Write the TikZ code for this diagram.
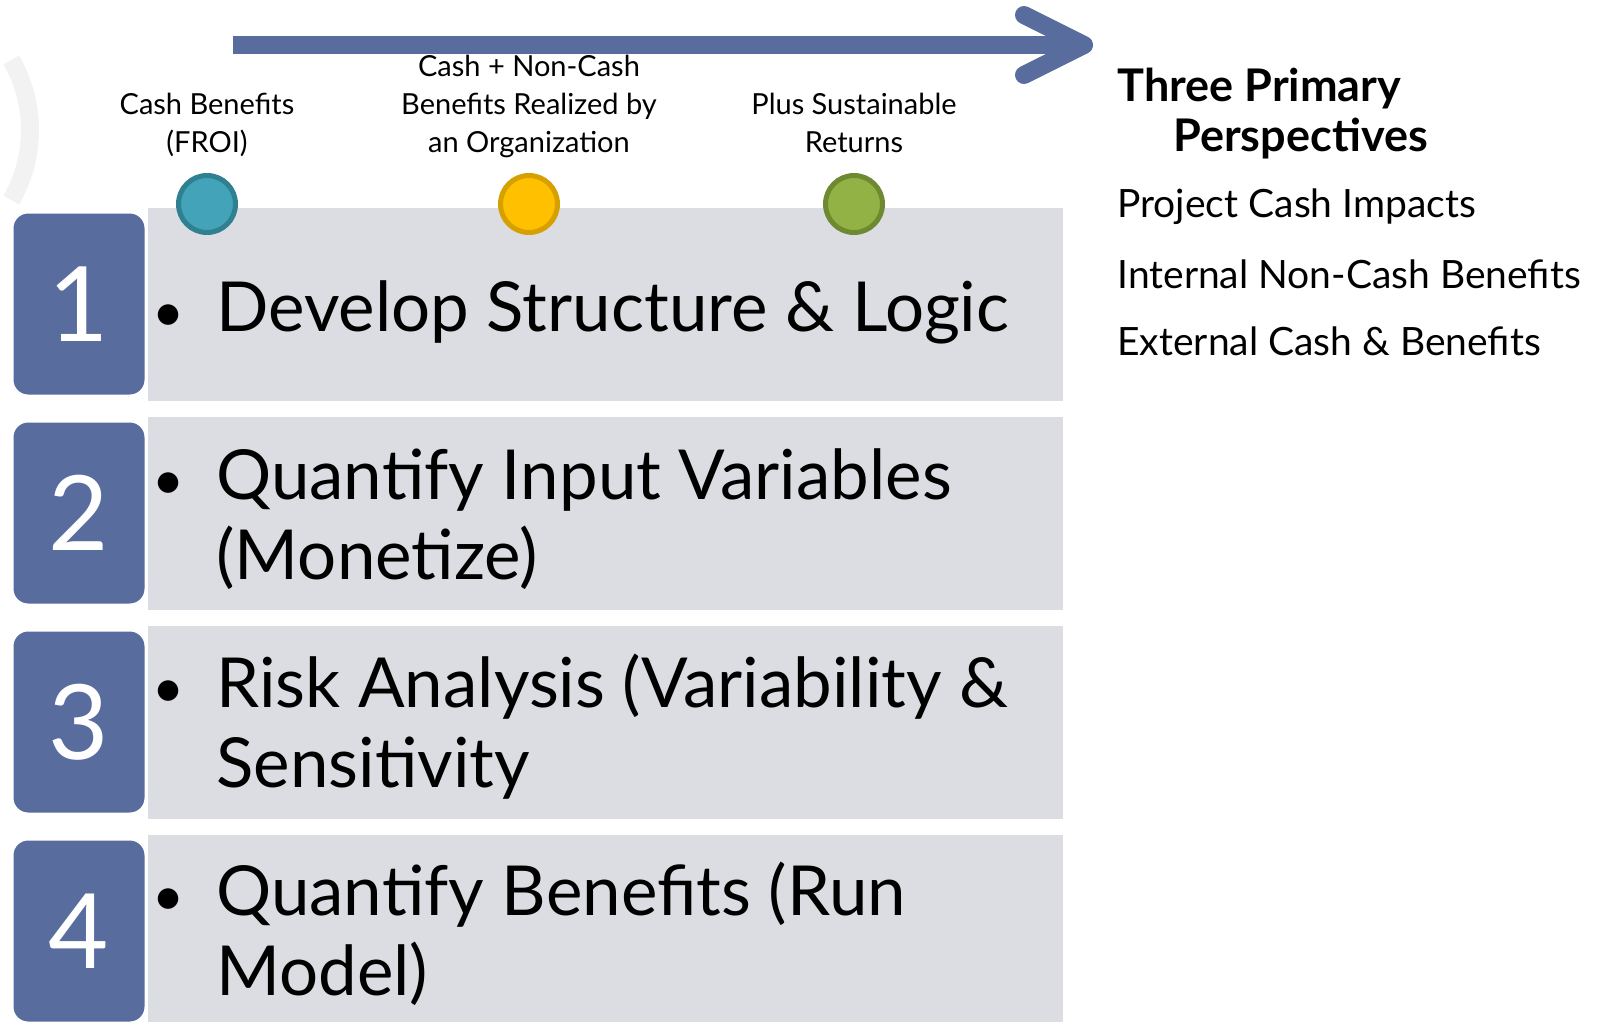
\documentclass[tikz,border=0pt]{standalone}
\usepackage{fontspec}
\setmainfont{Lato}
\usetikzlibrary{arrows.meta}

\definecolor{stepblue}{RGB}{88,108,158}
\definecolor{bargray}{RGB}{220,221,226}
\definecolor{tealfill}{RGB}{67,163,184}
\definecolor{tealline}{RGB}{47,128,144}
\definecolor{goldfill}{RGB}{255,192,0}
\definecolor{goldline}{RGB}{214,160,0}
\definecolor{greenfill}{RGB}{146,178,70}
\definecolor{greenline}{RGB}{110,138,48}

\begin{document}
\begin{tikzpicture}[x=0.5pt,y=-0.5pt,
    numbox/.style={rectangle,rounded corners=8pt,fill=stepblue,draw=white,line width=1.5pt,
      text=white,minimum width=67pt,minimum height=92pt,inner sep=0pt,font=\fontsize{52}{52}\selectfont},
    stepbar/.style={rectangle,fill=bargray,minimum width=457.5pt,minimum height=96.5pt,inner sep=0pt},
    steptext/.style={anchor=south west,align=left,inner sep=0pt,text depth=0pt,
      font=\fontsize{34.5}{40}\selectfont},
    dot/.style={circle,draw,line width=2.5pt,minimum size=28.5pt,inner sep=0pt},
    toplabel/.style={anchor=south,align=center,inner sep=0pt,text depth=0pt,
      font=\fontsize{14.5}{19}\selectfont},
    sidetext/.style={anchor=base west,inner sep=0pt,font=\fontsize{19.5}{22}\selectfont}]

\clip (0,0) rectangle (1602,1022);

% faint arc at the left edge
\draw[black!5,line width=9pt] (-110,130) ++(-30:140) arc[start angle=-30,end angle=30,radius=140];

% the long arrow
\coordinate (arrowstart) at (233,45);
\coordinate (arrowend) at (1093,45);
\draw[stepblue,line width=9pt,-{Straight Barb[length=30pt,width=30pt,round]}] (arrowstart) -- (arrowend);

% grey bars
\node[stepbar] (bar1) at (605.5,304) {};
\node[stepbar] (bar2) at (605.5,513) {};
\node[stepbar] (bar3) at (605.5,722) {};
\node[stepbar] (bar4) at (605.5,931) {};

% numbered boxes
\node[numbox] (n1) at (79,304) {1};
\node[numbox] (n2) at (79,513) {2};
\node[numbox] (n3) at (79,722) {3};
\node[numbox] (n4) at (79,931) {4};

% step texts
\newcommand{\stepdot}{\llap{\scalebox{0.8}{\textbullet}\hspace{16pt}}}
\node[steptext] (t1) at (216,332) {\stepdot Develop Structure \& Logic};
\node[steptext] (t2) at (216,580) {\stepdot Quantify Input Variables\\(Monetize)};
\node[steptext] (t3) at (216,788) {\stepdot Risk Analysis (Variability \&\\Sensitivity};
\node[steptext] (t4) at (216,996) {\stepdot Quantify Benefits (Run\\Model)};

% circles on the first bar
\node[dot,fill=tealfill,draw=tealline] (c1) at (207,204) {};
\node[dot,fill=goldfill,draw=goldline] (c2) at (529,204) {};
\node[dot,fill=greenfill,draw=greenline] (c3) at (854,204) {};

% labels over the circles
\node[toplabel] (l1) at (207,153) {Cash Benefits\\(FROI)};
\node[toplabel] (l2) at (529,153) {Cash + Non-Cash\\Benefits Realized by\\an Organization};
\node[toplabel] (l3) at (854,153) {Plus Sustainable\\Returns};

% right side
\node[anchor=base west,align=left,inner sep=0pt,font=\fontsize{22.5}{25}\selectfont\bfseries] (head) at (1117,152)
  {Three Primary\\\hspace*{28pt}Perspectives};
\node[sidetext] (p1) at (1117,218) {Project Cash Impacts};
\node[sidetext] (p2) at (1117,288) {Internal Non-Cash Benefits};
\node[sidetext] (p3) at (1117,355) {External Cash \& Benefits};

\end{tikzpicture}
\end{document}
